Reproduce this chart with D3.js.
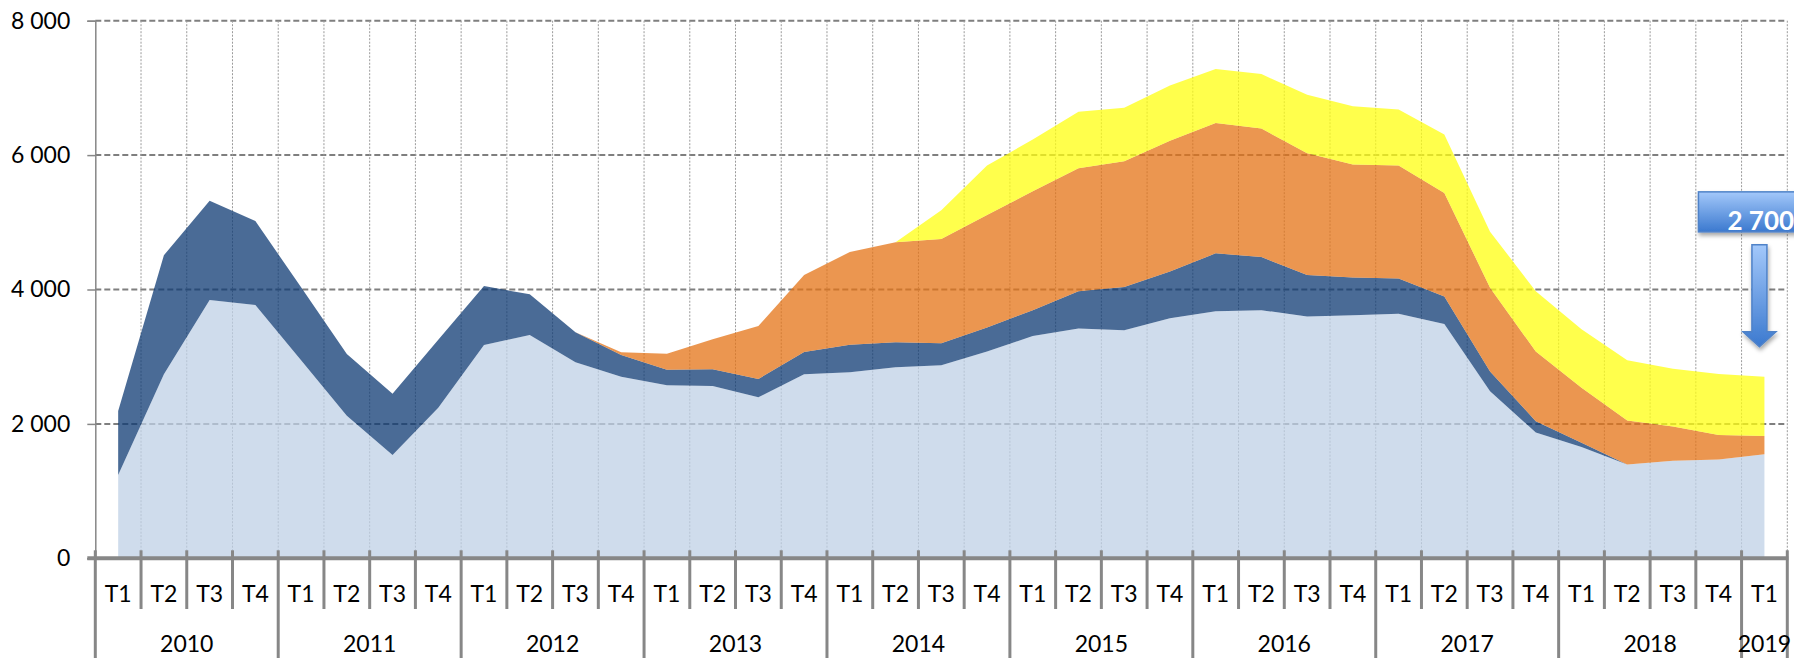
<!DOCTYPE html>
<html>
<head>
<meta charset="utf-8">
<script src="https://cdn.jsdelivr.net/npm/d3@7/dist/d3.min.js"></script>
<style>
	html, body { margin: 0; padding: 0; background: #fff; }
	svg { display: block; font-family: Lato, "Open Sans", sans-serif; }
</style>
</head>
<body>
<svg id="chart" width="1794" height="658"></svg>
<script>
// categories
const years = ["2010", "2011", "2012", "2013", "2014", "2015", "2016", "2017", "2018", "2019"];
const quarters = ["T1", "T2", "T3", "T4"];
const categories = years.flatMap(yr => quarters.map(q => ({ year: yr, q: q }))).slice(0, 37);

// cumulative levels of each band (top of the stack), one per quarter
const lightLevel = [1240, 2738, 3844, 3769, 2946, 2122, 1537, 2241, 3174,
	3323, 2916, 2703, 2574, 2564, 2396, 2738, 2768, 2842,
	2872, 3077, 3308, 3420, 3395, 3574, 3677, 3692, 3600, 3615,
	3641, 3487, 2487, 1872, 1656, 1395, 1451, 1472, 1549];
const darkLevel = [2192, 4509, 5322, 5019, 4033, 3040, 2450, 3251, 4052,
	3928, 3363, 3025, 2807, 2812, 2668, 3070, 3179, 3214,
	3200, 3436, 3692, 3974, 4036, 4267, 4538, 4482, 4215, 4179,
	4164, 3897, 2779, 2041, 1718, 1395, 1451, 1472, 1549];
const orangeLevel = [null, null, null, null, null, null, null, null, null, null,
	3363, 3065, 3045, 3259, 3457, 4216, 4558, 4702,
	4752, 5110, 5461, 5805, 5907, 6215, 6477, 6395, 6026, 5861,
	5846, 5436, 4026, 3077, 2538, 2051, 1960, 1836, 1820];
const yellowLevel = [null, null, null, null, null, null, null, null, null, null,
	null, null, null, null, null, null, null, 4702,
	5180, 5846, 6231, 6645, 6705, 7036, 7282, 7205, 6897, 6728,
	6677, 6307, 4861, 3974, 3410, 2949, 2820, 2743, 2700];

const yTicks = [0, 2000, 4000, 6000, 8000];
const lastValue = 2700;

const svg = d3.select("#chart");
const width = 1794, height = 658;
const plot = { left: 95.3, right: 1787.3, top: 20.7, bottom: 558.3 };

const x = d3.scaleBand()
	.domain(d3.range(categories.length))
	.range([plot.left, plot.right])
	.padding(0);
const bw = x.bandwidth();
const cx = i => x(i) + bw / 2;

const y = d3.scaleLinear()
	.domain([0, 8000])
	.range([plot.bottom, plot.top]);

const gray = "#878787";

// gridlines (under the semi transparent areas)
const grid = svg.append("g");
grid.selectAll("line.h")
	.data(yTicks.filter(d => d > 0))
	.join("line")
	.attr("x1", plot.left).attr("x2", plot.right)
	.attr("y1", d => y(d)).attr("y2", d => y(d))
	.attr("stroke", "#7f7f7f")
	.attr("stroke-width", 2)
	.attr("stroke-dasharray", "6,3");
grid.selectAll("line.v")
	.data(d3.range(1, categories.length + 1))
	.join("line")
	.attr("x1", k => plot.left + k * bw).attr("x2", k => plot.left + k * bw)
	.attr("y1", y(8000)).attr("y2", y(0))
	.attr("stroke", "#9a9a9a")
	.attr("stroke-width", 1)
	.attr("stroke-dasharray", "2,1.5");

// stacked bands
const bands = [
	{ lo: null, hi: lightLevel, color: "#bfd0e6" },
	{ lo: lightLevel, hi: darkLevel, color: "#0e3a73" },
	{ lo: darkLevel, hi: orangeLevel, color: "#e47316" },
	{ lo: orangeLevel, hi: yellowLevel, color: "#ffff10" }
];

bands.forEach(b => {
	const pts = b.hi.map((v, i) => ({ i: i, hi: v, lo: b.lo ? b.lo[i] : 0 }));
	const area = d3.area()
		.defined(d => d.hi != null)
		.x(d => cx(d.i))
		.y0(d => y(d.lo == null ? d.hi : d.lo))
		.y1(d => y(d.hi));
	svg.append("path")
		.datum(pts)
		.attr("d", area)
		.attr("fill", b.color)
		.attr("fill-opacity", 0.75);
});

// y axis
const yAxis = d3.axisLeft(y)
	.tickValues(yTicks)
	.tickSize(8)
	.tickPadding(17)
	.tickFormat(d => d3.format(",")(d).replace(/,/g, " "));
const ya = svg.append("g")
	.attr("transform", `translate(${plot.left},0)`)
	.call(yAxis);
ya.select(".domain").attr("stroke", gray).attr("stroke-width", 1.5);
ya.selectAll(".tick line").attr("stroke", gray).attr("stroke-width", 1.5);
ya.selectAll(".tick text")
	.attr("fill", "#000")
	.style("font-size", "23px")
	.style("font-family", "Lato, 'Open Sans', sans-serif");

// x axis
const xa = svg.append("g");
xa.selectAll("line.sep")
	.data(d3.range(0, categories.length + 1))
	.join("line")
	.attr("x1", k => plot.left + k * bw).attr("x2", k => plot.left + k * bw)
	.attr("y1", plot.bottom - 8)
	.attr("y2", k => (k % 4 === 0 || k === categories.length) ? height : 609)
	.attr("stroke", gray)
	.attr("stroke-width", 3);
xa.append("line")
	.attr("x1", plot.left - 8).attr("x2", plot.right + 1)
	.attr("y1", plot.bottom).attr("y2", plot.bottom)
	.attr("stroke", gray)
	.attr("stroke-width", 4);

xa.selectAll("text.q")
	.data(categories)
	.join("text")
	.attr("x", (d, i) => cx(i))
	.attr("y", 602)
	.attr("text-anchor", "middle")
	.style("font-size", "23px")
	.text(d => d.q);

const yearGroups = d3.groups(categories.map((d, i) => ({ year: d.year, i: i })), d => d.year);
xa.selectAll("text.yr")
	.data(yearGroups)
	.join("text")
	.attr("x", g => (cx(g[1][0].i) + cx(g[1][g[1].length - 1].i)) / 2)
	.attr("y", 652)
	.attr("text-anchor", "middle")
	.style("font-size", "23px")
	.text(g => g[0]);

// callout "2 700" with arrow
const defs = svg.append("defs");
const grad = defs.append("linearGradient")
	.attr("id", "blueGrad")
	.attr("x1", 0).attr("y1", 0).attr("x2", 0).attr("y2", 1);
grad.append("stop").attr("offset", "0%").attr("stop-color", "#a3c8fa");
grad.append("stop").attr("offset", "100%").attr("stop-color", "#3b79cf");
const shadow = defs.append("filter").attr("id", "shadow")
	.attr("x", "-20%").attr("y", "-20%").attr("width", "150%").attr("height", "160%");
shadow.append("feDropShadow")
	.attr("dx", 1).attr("dy", 3).attr("stdDeviation", 2)
	.attr("flood-color", "#000").attr("flood-opacity", 0.35);

const lastI = categories.length - 1;
const arrowX = cx(lastI) - 5;
const tipY = y(lastValue) - 30;

const callout = svg.append("g");
callout.append("rect")
	.attr("x", arrowX - 61)
	.attr("y", tipY - 155)
	.attr("width", 140)
	.attr("height", 40)
	.attr("fill", "url(#blueGrad)")
	.attr("stroke", "#4f82c8")
	.attr("stroke-width", 1.5)
	.attr("filter", "url(#shadow)");
callout.append("text")
	.attr("x", arrowX - 32)
	.attr("y", tipY - 117)
	.attr("fill", "#fff")
	.style("font-size", "26px")
	.style("font-weight", "bold")
	.text(d3.format(",")(lastValue).replace(/,/g, " "));

const arrow = d3.path();
arrow.moveTo(arrowX - 7.5, tipY - 102);
arrow.lineTo(arrowX + 7.5, tipY - 102);
arrow.lineTo(arrowX + 7.5, tipY - 15);
arrow.lineTo(arrowX + 16.5, tipY - 15);
arrow.lineTo(arrowX, tipY);
arrow.lineTo(arrowX - 16.5, tipY - 15);
arrow.lineTo(arrowX - 7.5, tipY - 15);
arrow.closePath();
callout.append("path")
	.attr("d", arrow.toString())
	.attr("fill", "url(#blueGrad)")
	.attr("stroke", "#4f82c8")
	.attr("stroke-width", 1.5)
	.attr("filter", "url(#shadow)");
</script>
</body>
</html>
